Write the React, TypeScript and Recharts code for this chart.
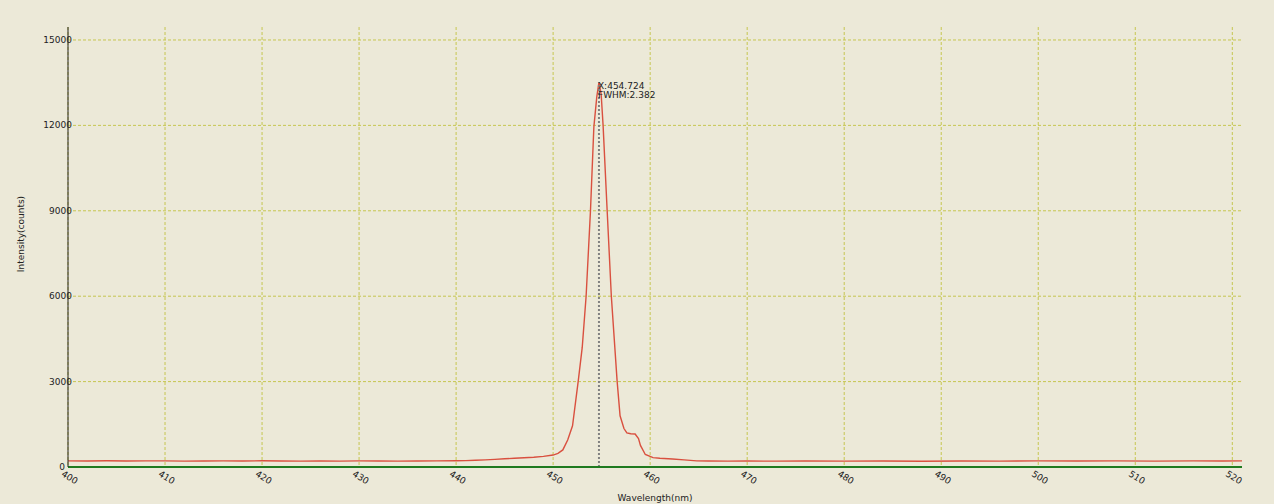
import React from "react";
import {
  LineChart,
  Line,
  XAxis,
  YAxis,
  CartesianGrid,
  ReferenceLine,
} from "recharts";

// spectrum (nm / counts)
const wavelengths = [
  400, 402, 404, 406, 408, 410, 412, 414, 416, 418, 420, 422, 424, 426, 428,
  430, 432, 434, 436, 438, 440, 441, 442, 443, 444, 445, 446, 447, 448, 449,
  450, 450.5, 451, 451.5, 452, 452.6, 453, 453.4, 453.85, 454.2, 454.5,
  454.724, 454.95, 455.15, 455.57, 456, 456.6, 456.9, 457.3, 457.6, 458,
  458.45, 458.8, 459, 459.5, 460.3, 461, 462.3, 463.5, 464.8, 466, 468, 470,
  473, 476, 480, 484, 488, 492, 496, 500, 504, 508, 512, 516, 519, 521,
];
const intensity = [
  215, 212, 218, 210, 214, 216, 208, 212, 214, 209, 220, 212, 206, 210, 208,
  214, 211, 207, 212, 215, 218, 225, 235, 250, 268, 288, 305, 325, 345, 375,
  420, 480, 600, 950, 1450, 3050, 4200, 6000, 9000, 11950, 13000, 13520,
  13100, 12000, 9000, 6000, 3000, 1800, 1350, 1200, 1170, 1160, 1000, 760,
  440, 330, 305, 280, 250, 215, 212, 208, 210, 206, 212, 205, 210, 204, 212,
  208, 214, 210, 216, 208, 214, 210, 216,
];

const xTicks = [400, 410, 420, 430, 440, 450, 460, 470, 480, 490, 500, 510, 520];
const yTicks = [0, 3000, 6000, 9000, 12000, 15000];

const peakX = 454.724;
const peakY = 13520;
const fwhm = 2.382;

const data = wavelengths.map((w, i) => ({ w, v: intensity[i] }));

const FONT = "DejaVu Sans, Verdana, sans-serif";

function XTick(props: any) {
  const { x, y, payload } = props;
  const ty = y + 13;
  return (
    <text
      x={x}
      y={ty}
      textAnchor="middle"
      fontSize={9}
      fontFamily={FONT}
      fill="#222"
      transform={`rotate(32, ${x}, ${ty})`}
    >
      {payload.value}
    </text>
  );
}

function YTick(props: any) {
  const { x, y, payload } = props;
  const isZero = payload.value === 0;
  return (
    <text
      x={isZero ? x - 3 : x + 4}
      y={y + 3}
      textAnchor="end"
      fontSize={9}
      fontFamily={FONT}
      fill="#222"
    >
      {payload.value}
    </text>
  );
}

function YTitle(props: any) {
  const { viewBox } = props;
  if (!viewBox) return null;
  const cx = viewBox.x + 21;
  const cy = viewBox.y + viewBox.height / 2 - 13;
  return (
    <text
      x={cx}
      y={cy}
      textAnchor="middle"
      dominantBaseline="central"
      fontSize={9}
      fontFamily={FONT}
      fill="#222"
      transform={`rotate(-90, ${cx}, ${cy})`}
    >
      Intensity(counts)
    </text>
  );
}

function PeakLabel(props: any) {
  const { viewBox } = props;
  if (!viewBox) return null;
  return (
    <g fontSize={9} fontFamily={FONT} fill="#222">
      <text x={viewBox.x - 1} y={viewBox.y + 7}>
        {`X:${peakX}`}
      </text>
      <text x={viewBox.x - 1} y={viewBox.y + 16}>
        {`FWHM:${fwhm}`}
      </text>
    </g>
  );
}

export default function App() {
  return (
    <div
      style={{
        position: "absolute",
        left: 0,
        top: 0,
        width: 1274,
        height: 504,
        background: "#ece9d8",
      }}
    >
      <LineChart
        width={1274}
        height={504}
        data={data}
        margin={{ top: 27, right: 32, bottom: 0, left: 0 }}
      >
        <CartesianGrid
          stroke="#c6c650"
          strokeDasharray="3 2"
          horizontalValues={yTicks}
          verticalValues={xTicks}
        />
        <XAxis
          dataKey="w"
          type="number"
          domain={[400, 521]}
          ticks={xTicks}
          allowDataOverflow
          height={37}
          tickSize={0}
          tickMargin={0}
          tick={<XTick />}
          axisLine={{ stroke: "#1f7a1f", strokeWidth: 2 }}
          label={{
            value: "Wavelength(nm)",
            position: "insideBottom",
            offset: 3,
            fontSize: 9,
            fontFamily: FONT,
            fill: "#222",
          }}
        />
        <YAxis
          type="number"
          domain={[0, 15456]}
          ticks={yTicks}
          allowDataOverflow
          width={68}
          tickSize={0}
          tickMargin={0}
          tick={<YTick />}
          axisLine={{ stroke: "#222", strokeWidth: 1 }}
          label={<YTitle />}
        />
        <Line
          type="linear"
          dataKey="v"
          stroke="#d9503f"
          strokeWidth={1.4}
          dot={false}
          isAnimationActive={false}
        />
        <ReferenceLine
          segment={[
            { x: peakX, y: 0 },
            { x: peakX, y: peakY },
          ]}
          stroke="#808080"
          strokeWidth={2}
          strokeDasharray="2 2"
          label={<PeakLabel />}
        />
      </LineChart>
    </div>
  );
}
